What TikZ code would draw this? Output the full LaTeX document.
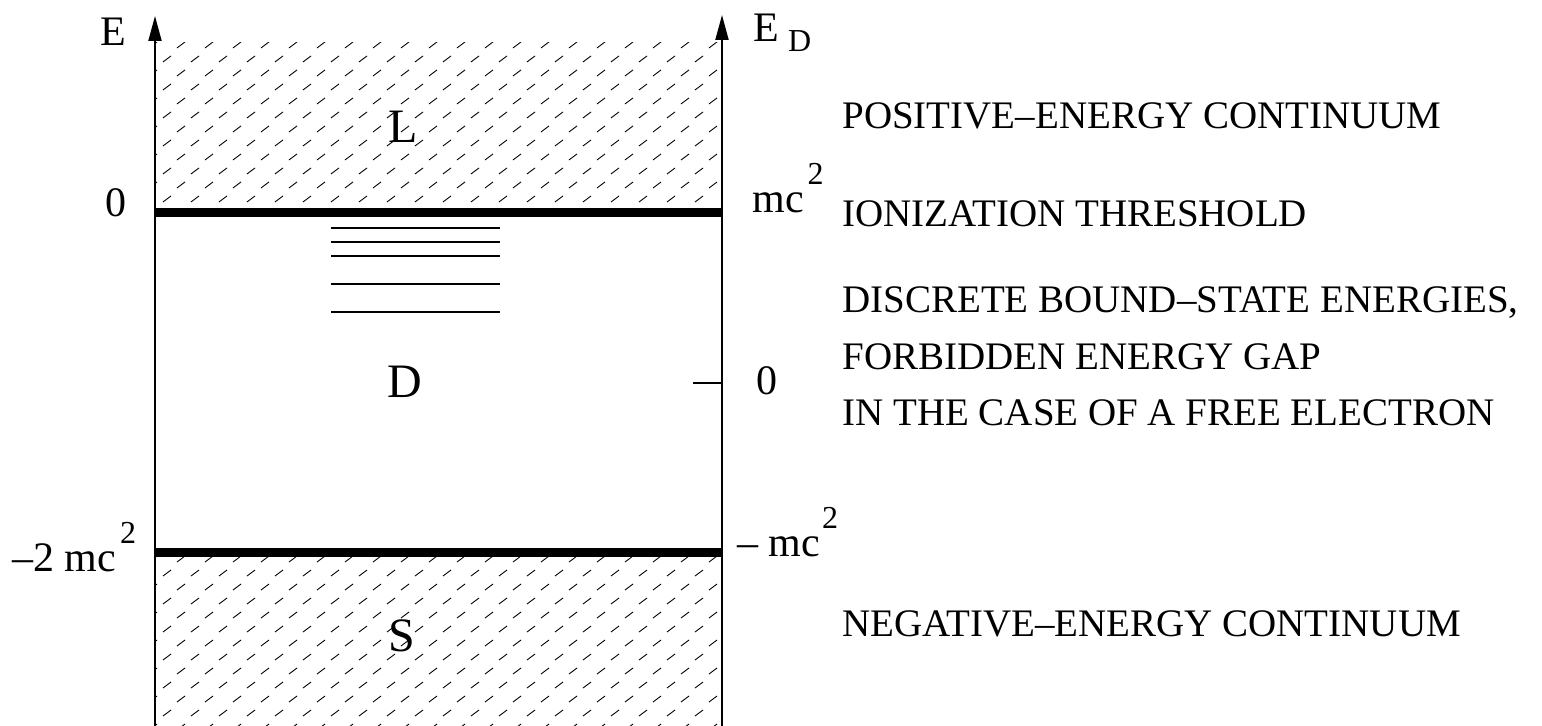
\documentclass[tikz,border=0pt]{standalone}
\usepackage{fontspec}
\setmainfont{Liberation Serif}
\usetikzlibrary{arrows.meta}
\newcommand{\supsc}[1]{\raisebox{14pt}{\fontsize{16}{16}\selectfont #1}}

\begin{document}
\begin{tikzpicture}[x=0.5pt,y=-0.5pt,
    eaxis/.style={line width=1pt,-{Triangle[length=12.5pt,width=6.5pt]}},
    boundlevel/.style={line width=1.2pt},
    band/.style={line width=4.5pt},
    hatch/.style={line width=0.45pt},
    lbl/.style={inner sep=0pt,font=\fontsize{21}{25}\selectfont},
    region/.style={inner sep=0pt,font=\fontsize{24}{28}\selectfont},
    note/.style={inner sep=0pt,anchor=base west,font=\fontsize{19.5}{23}\selectfont}]
    \useasboundingbox (0,0) rectangle (1542,726);
    % hatched continua
    \begin{scope}
        \clip (155,43) rectangle (722,213);
        \foreach \j in {0,...,12} \foreach \i in {0,...,21}
            \draw[hatch] ({149+28*\i+14*mod(\j,2)},{48+14*\j}) -- ++(8,-6);
    \end{scope}
    \begin{scope}
        \clip (155,553) rectangle (722,726);
        \foreach \j in {0,...,12} \foreach \i in {0,...,21}
            \draw[hatch] ({149+28*\i+14*mod(\j,2)},{562+14*\j}) -- ++(8,-6);
    \end{scope}
    \draw[band] (155,213) -- (722,213);
    \draw[band] (155,553) -- (722,553);
    % axes
    \coordinate (Lbot) at (155,726); \coordinate (Ltop) at (155,16);
    \coordinate (Rbot) at (722,726); \coordinate (Rtop) at (722,15);
    \draw[eaxis] (Lbot) -- (Ltop);
    \draw[eaxis] (Rbot) -- (Rtop);
    \coordinate (tick) at (693,383); \coordinate (tickR) at (722,383);
    \draw[line width=1pt] (tick) -- (tickR);
    % bound states
    \foreach \y in {228,242,256,284,312} \draw[boundlevel] (331,\y) -- (500,\y);
    % axis labels
    \node[lbl] (E) at (113,32) {E};
    \node[lbl,anchor=base west] (ED) at (753,42) {E\kern4.5pt\raisebox{-5pt}{\fontsize{16}{16}\selectfont D}};
    \node[lbl] (zeroL) at (116,203) {0};
    \node[lbl,anchor=base west] (mcU) at (752,213) {mc\kern2pt\supsc{2}};
    \node[lbl,anchor=base west] (mcLL) at (12,572) {--2 mc\kern2pt\supsc{2}};
    \node[lbl,anchor=base west] (mcLR) at (737,557) {-- mc\kern1pt\supsc{2}};
    \node[lbl] (zeroR) at (767,381) {0};
    % regions
    \node[region] (L) at (403,127) {L};
    \node[region] (D) at (405,382) {D};
    \node[region] (S) at (402,636) {S};
    % notes
    \node[note] (pos) at (842,129) {POSITIVE--ENERGY CONTINUUM};
    \node[note] (ion) at (842,227) {IONIZATION THRESHOLD};
    \node[note] (disc) at (842,313) {DISCRETE BOUND--STATE ENERGIES,};
    \node[note] (gap) at (842,370) {FORBIDDEN ENERGY GAP};
    \node[note] (free) at (842,426) {IN THE CASE OF A FREE ELECTRON};
    \node[note] (neg) at (842,637) {NEGATIVE--ENERGY CONTINUUM};
\end{tikzpicture}
\end{document}
